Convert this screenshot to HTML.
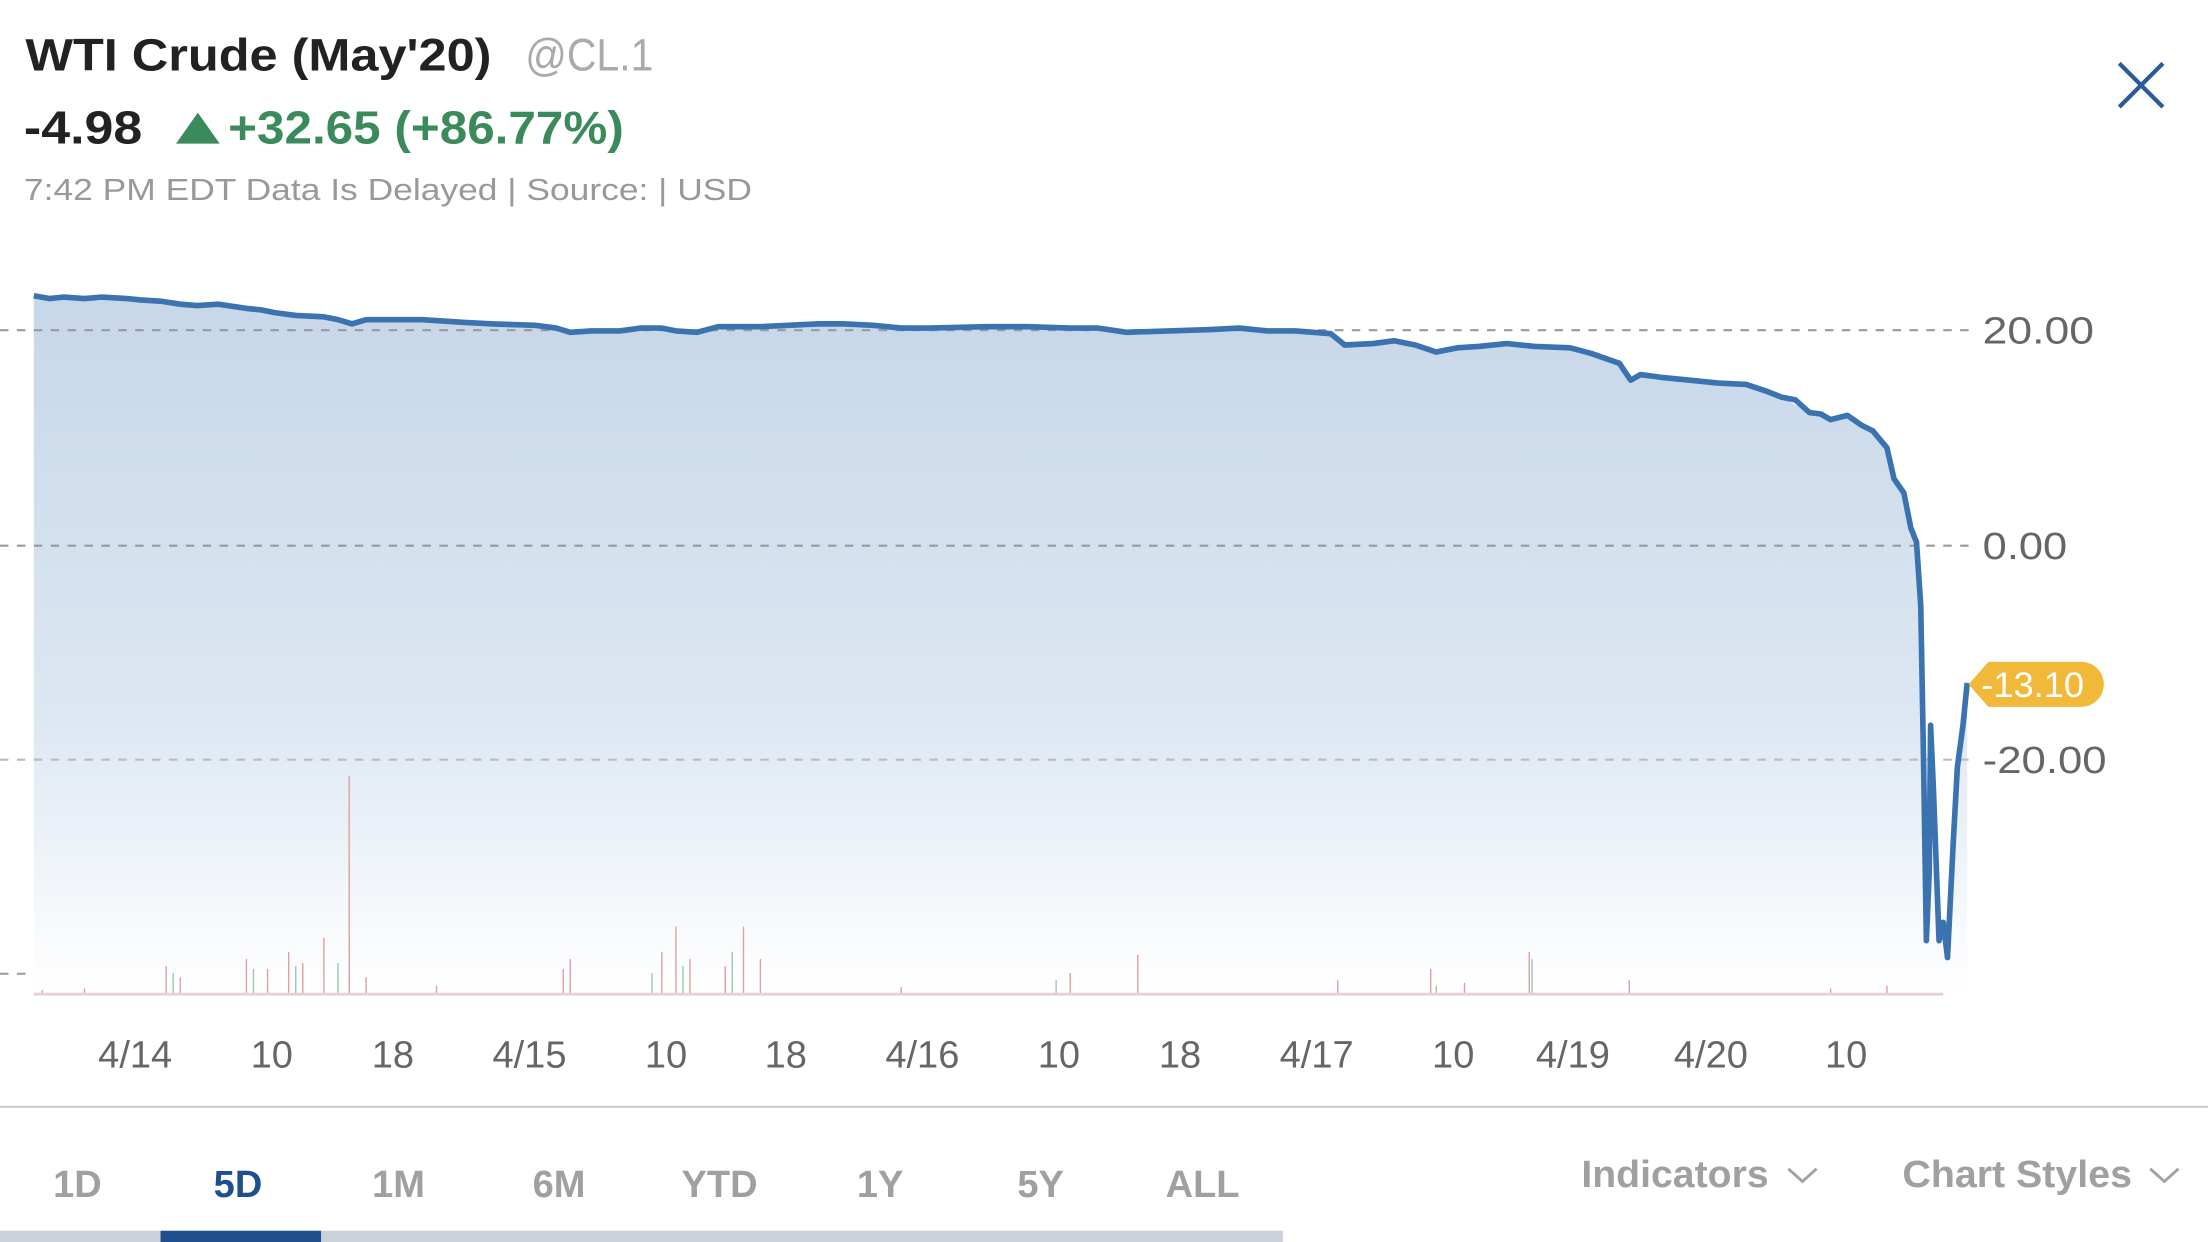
<!DOCTYPE html>
<html><head><meta charset="utf-8"><style>
html,body{margin:0;padding:0;background:#fff;overflow:hidden}
svg{display:block}
text{font-family:"Liberation Sans",sans-serif}
</style></head><body>
<svg width="2208" height="1242" viewBox="0 0 1568 882" xmlns="http://www.w3.org/2000/svg">
<defs>
<linearGradient id="g" x1="0" y1="0" x2="0" y2="1">
<stop offset="0" stop-color="#c6d7e9"/>
<stop offset="0.6" stop-color="#dde7f2"/>
<stop offset="1" stop-color="#ffffff"/>
</linearGradient>
</defs>
<text x="18" y="50" font-size="32" font-weight="bold" fill="#222" textLength="331" lengthAdjust="spacingAndGlyphs">WTI Crude (May'20)</text>
<text x="373" y="50" font-size="32" fill="#aaa" textLength="91" lengthAdjust="spacingAndGlyphs">@CL.1</text>
<text x="17" y="102" font-size="33" font-weight="bold" fill="#222" textLength="84" lengthAdjust="spacingAndGlyphs">-4.98</text>
<polygon points="125,102 156,102 140.5,80" fill="#3a8a5c"/>
<text x="162" y="102" font-size="33" font-weight="bold" fill="#3a8a5c" textLength="281" lengthAdjust="spacingAndGlyphs">+32.65 (+86.77%)</text>
<text x="17" y="142" font-size="22" fill="#999" textLength="517" lengthAdjust="spacingAndGlyphs">7:42 PM EDT Data Is Delayed | Source:  | USD</text>
<path d="M1505,45 L1536,76 M1536,45 L1505,76" stroke="#2a5a9a" stroke-width="3" fill="none"/>

<path d="M24,210 L60,212 L90,212 L115,214 L140,217 L175,219 L195,222 L230,225 L250,230 L260,227 L300,227 L330,229 L380,231 L405,236 L440,235 L470,233 L495,236 L520,232 L560,231 L600,230 L640,233 L700,232 L760,233 L800,236 L860,234 L900,235 L945,237 L955,245 L990,242 L1020,250 L1050,246 L1090,246 L1115,247 L1150,258 L1158,270 L1165,266 L1200,270 L1240,273 L1265,282 L1285,293 L1300,298 L1312,295 L1330,306 L1340,318 L1345,340 L1352,350 L1357,375 L1361,385 L1364,430 L1366,540 L1368,668 L1370,620 L1371,515 L1373,560 L1377,668 L1380,655 L1383,680 L1387,600 L1390,545 L1394,515 L1397,485 L1397,705 L24,705 Z" fill="url(#g)"/>

<g stroke="#999" stroke-width="1.5" stroke-dasharray="6,6">
<line x1="0" y1="234.5" x2="1398" y2="234.5"/>
<line x1="0" y1="387.5" x2="1398" y2="387.5"/>
<line x1="0" y1="539.5" x2="1398" y2="539.5" stroke="#bbb"/>
<line x1="0" y1="691.5" x2="20" y2="691.5"/>
</g>

<g stroke="#e0a0a0" stroke-width="1">
<path d="M30,706v-3M60,706v-4M118,706v-20M128,706v-12M175,706v-25M190,706v-18M205,706v-30M215,706v-22M230,706v-40M248,706v-155M260,706v-12M310,706v-6M400,706v-18M405,706v-25M470,706v-30M480,706v-48M490,706v-25M515,706v-20M528,706v-48M540,706v-25M640,706v-5M760,706v-15M808,706v-28M950,706v-10M1016,706v-18M1040,706v-8M1086,706v-30M1157,706v-10M1300,706v-4M1340,706v-6"/>
</g>
<g stroke="#9cc9b0" stroke-width="1">
<path d="M123,706v-15M180,706v-18M210,706v-20M240,706v-22M463,706v-15M485,706v-20M520,706v-30M750,706v-10M1020,706v-6M1088,706v-25"/>
</g>
<line x1="24" y1="706" x2="1380" y2="706" stroke="#e6d0d0" stroke-width="2"/>

<path d="M24,210 L35,212 L45,211 L60,212 L72,211 L90,212 L100,213 L115,214 L128,216 L140,217 L155,216 L175,219 L185,220 L195,222 L210,224 L230,225 L240,227 L250,230 L260,227 L275,227 L300,227 L315,228 L330,229 L350,230 L380,231 L395,233 L405,236 L420,235 L440,235 L455,233 L470,233 L480,235 L495,236 L510,232 L520,232 L540,232 L560,231 L580,230 L600,230 L620,231 L640,233 L660,233 L700,232 L730,232 L760,233 L780,233 L800,236 L830,235 L860,234 L880,233 L900,235 L920,235 L945,237 L955,245 L975,244 L990,242 L1005,245 L1020,250 L1035,247 L1050,246 L1070,244 L1090,246 L1115,247 L1130,251 L1150,258 L1158,270 L1165,266 L1180,268 L1200,270 L1220,272 L1240,273 L1255,278 L1265,282 L1275,284 L1285,293 L1293,294 L1300,298 L1312,295 L1322,302 L1330,306 L1340,318 L1345,340 L1352,350 L1357,375 L1361,385 L1364,430 L1366,540 L1368,668 L1370,620 L1371,515 L1373,560 L1377,668 L1380,655 L1383,680 L1387,600 L1390,545 L1394,515 L1397,485" fill="none" stroke="#3b72b0" stroke-width="4" stroke-linejoin="round"/>

<g font-size="27" fill="#666">
<text x="1408" y="244" textLength="79" lengthAdjust="spacingAndGlyphs">20.00</text>
<text x="1408" y="397" textLength="60" lengthAdjust="spacingAndGlyphs">0.00</text>
<text x="1408" y="549" textLength="88" lengthAdjust="spacingAndGlyphs">-20.00</text>
</g>
<path d="M1398,486 L1412,470 L1478,470 A16,16 0 0 1 1478,502 L1412,502 Z" fill="#f0b93a"/>
<text x="1407" y="495" font-size="25" fill="#fff" textLength="73" lengthAdjust="spacingAndGlyphs">-13.10</text>

<g font-size="27" fill="#666" text-anchor="middle">
<text x="96" y="758">4/14</text><text x="193" y="758">10</text><text x="279" y="758">18</text>
<text x="376" y="758">4/15</text><text x="473" y="758">10</text><text x="558" y="758">18</text>
<text x="655" y="758">4/16</text><text x="752" y="758">10</text><text x="838" y="758">18</text>
<text x="935" y="758">4/17</text><text x="1032" y="758">10</text><text x="1117" y="758">4/19</text>
<text x="1215" y="758">4/20</text><text x="1311" y="758">10</text>
</g>
<line x1="0" y1="786" x2="1568" y2="786" stroke="#ccc" stroke-width="1.5"/>
<g font-size="27" font-weight="bold" fill="#a0a0a0" text-anchor="middle">
<text x="55" y="850">1D</text><text x="169" y="850" fill="#1f4f8f">5D</text>
<text x="283" y="850">1M</text><text x="397" y="850">6M</text><text x="511" y="850">YTD</text>
<text x="625" y="850">1Y</text><text x="739" y="850">5Y</text><text x="854" y="850">ALL</text>
</g>
<rect x="0" y="874" width="911" height="8" fill="#ccd0d8"/>
<rect x="114" y="874" width="114" height="8" fill="#1f4f8f"/>
<g font-size="27" font-weight="bold" fill="#a0a0a0">
<text x="1123" y="843" textLength="133" lengthAdjust="spacingAndGlyphs">Indicators</text>
<text x="1351" y="843" textLength="163" lengthAdjust="spacingAndGlyphs">Chart Styles</text>
</g>
<path d="M1270,830 L1280,839 L1290,830 M1527,830 L1537,839 L1547,830" stroke="#a0a0a0" stroke-width="2" fill="none"/>
</svg>
</body></html>
